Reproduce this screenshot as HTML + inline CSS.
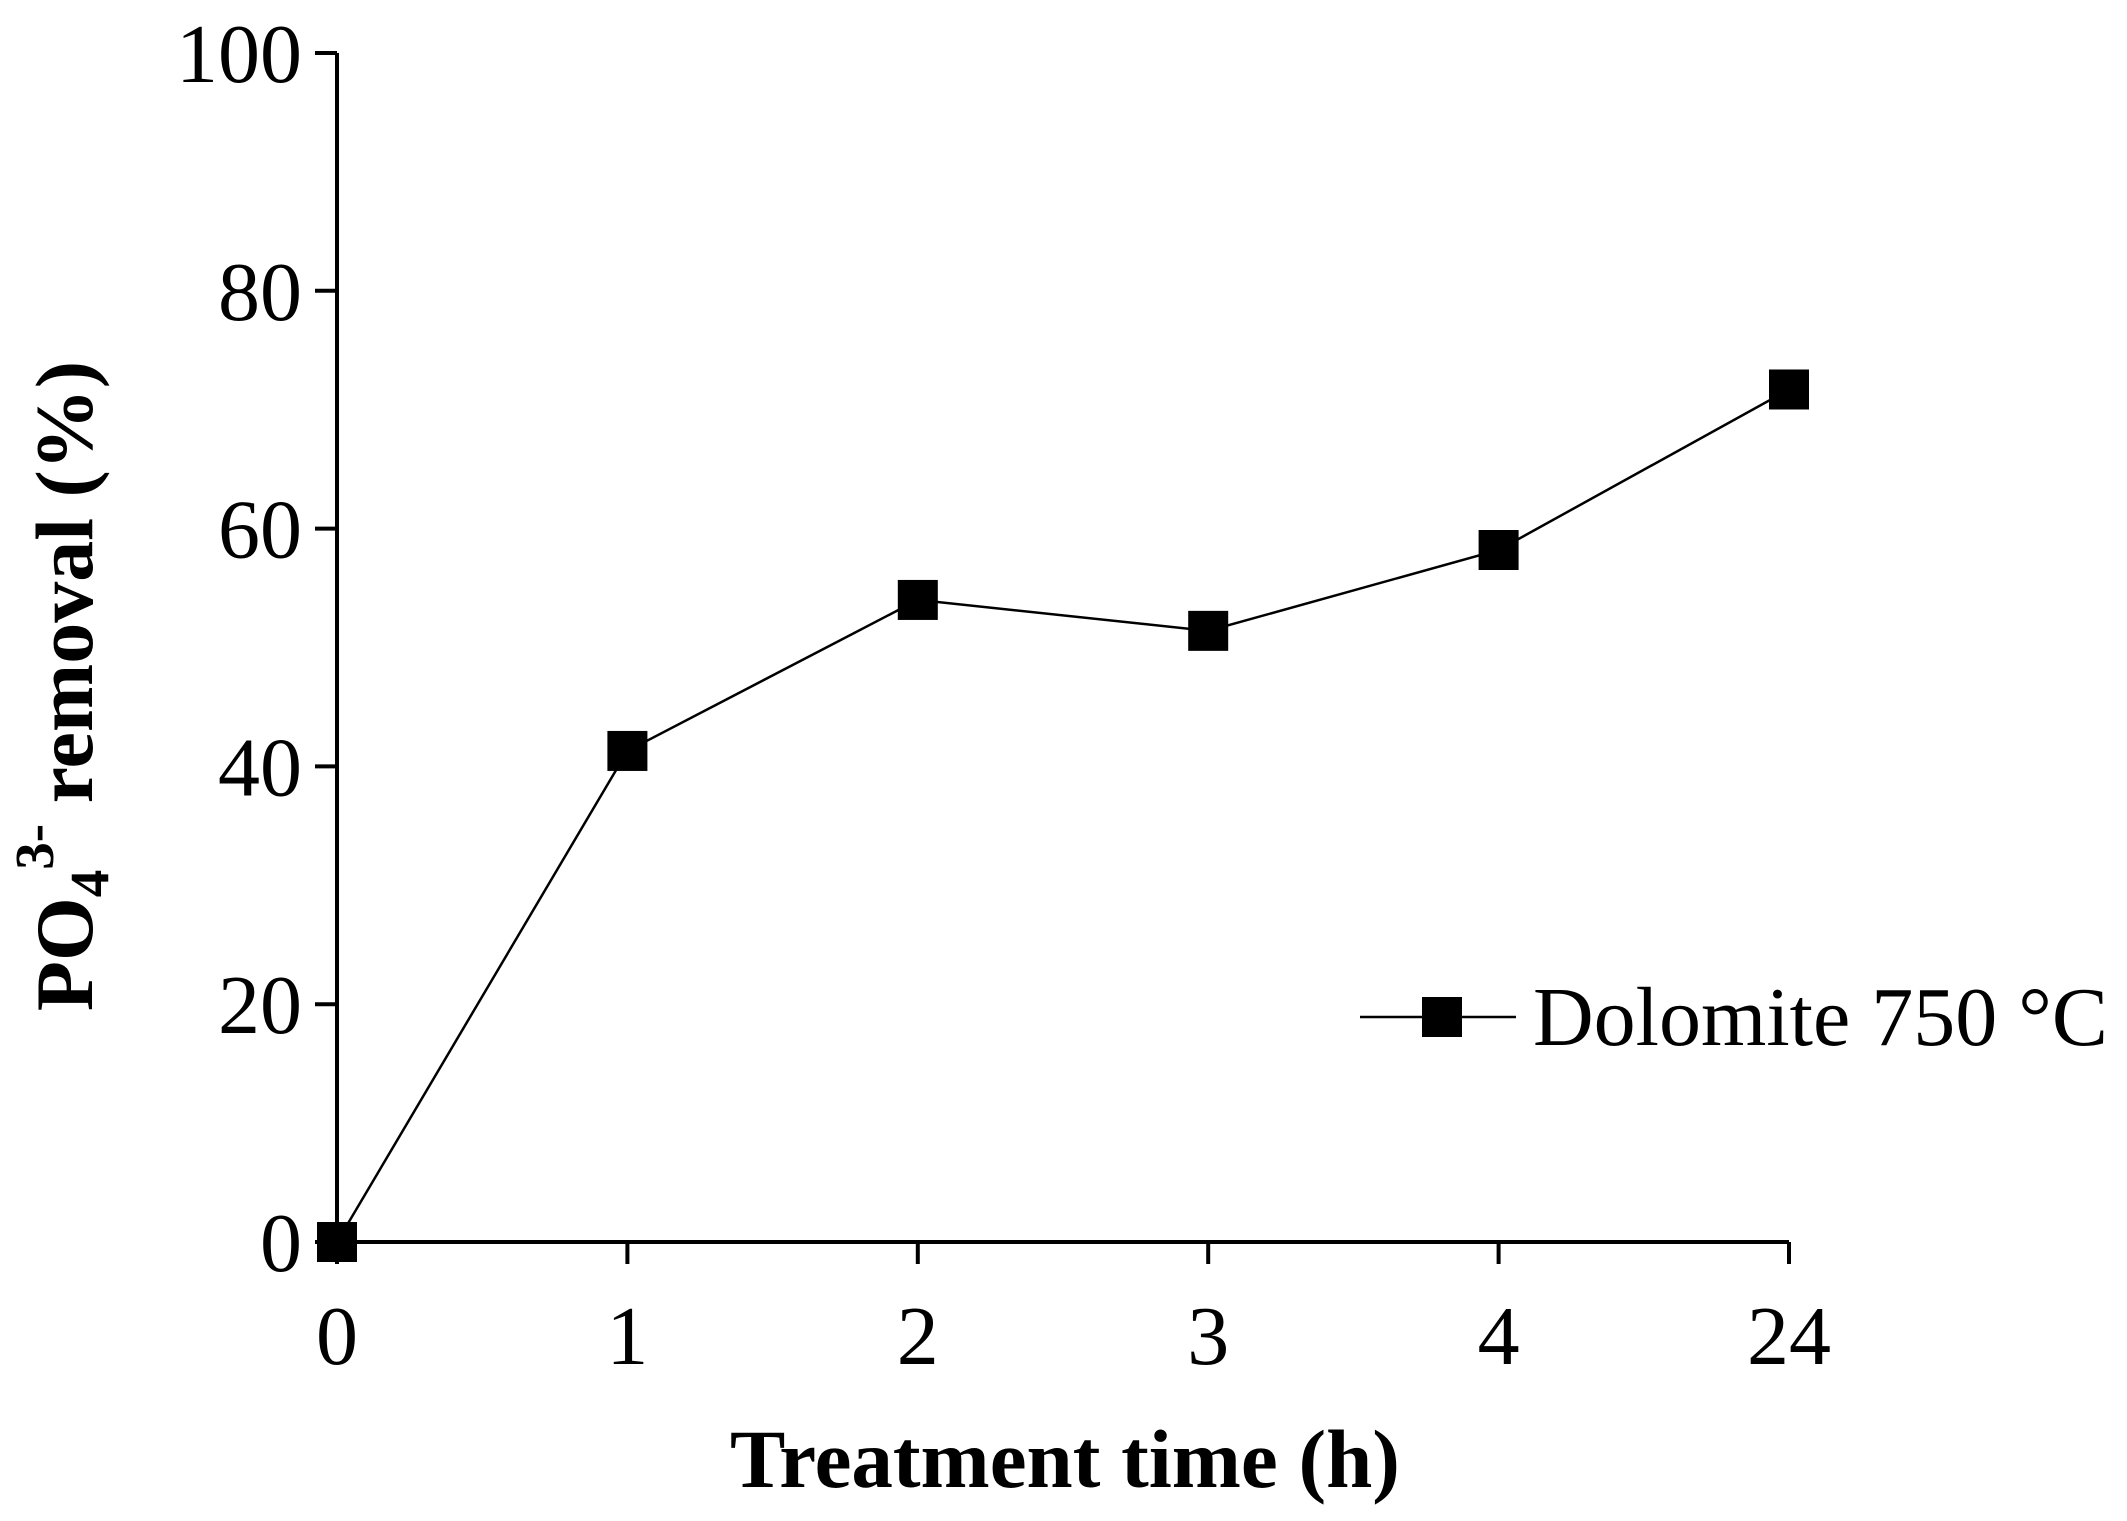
<!DOCTYPE html>
<html><head><meta charset="utf-8"><style>body{margin:0;background:#fff}svg{display:block}</style></head>
<body>
<svg id="chart" width="2127" height="1521" viewBox="0 0 2127 1521" font-family="'Liberation Serif', serif">
<g id="axes"></g><g id="series"></g>
<g>
<line x1="1360" y1="1017" x2="1516" y2="1017" stroke="#000" stroke-width="2.5"/>
<rect x="1422" y="997" width="40" height="40" fill="#000"/>
<text x="1533" y="1045" font-size="84">Dolomite 750 °C</text>
</g>
<text x="1065" y="1487" font-size="83" font-weight="bold" text-anchor="middle">Treatment time (h)</text>
<text transform="translate(92,686) rotate(-90)" font-size="82" font-weight="bold" text-anchor="middle">PO<tspan font-size="55" dy="16">4</tspan><tspan font-size="55" dy="-55">3-</tspan><tspan dy="39"> removal (%)</tspan></text>
</svg>
<script>
const categories=["0","1","2","3","4","24"];
const values=[0,41.3,54.0,51.4,58.2,71.7];
const yTicks=[0,20,40,60,80,100];
const NS="http://www.w3.org/2000/svg";
const x0=337,dx=290.4,yb=1242,yt=53;
const xs=i=>x0+i*dx, ys=v=>yb-(v/100)*(yb-yt);
function mk(t,a,p){const e=document.createElementNS(NS,t);for(const k in a)e.setAttribute(k,a[k]);p.appendChild(e);return e;}
const ax=document.getElementById('axes'),se=document.getElementById('series');
const ya=mk('line',{x1:x0,y1:yt,x2:x0,y2:yb,stroke:'#000','stroke-width':4},ax);


const xa=mk('line',{x1:x0,y1:yb,x2:xs(categories.length-1),y2:yb,stroke:'#000','stroke-width':4},ax);


yTicks.forEach(v=>{const y=ys(v);
const t=mk('line',{x1:x0-22,y1:y,x2:x0,y2:y,stroke:'#000','stroke-width':4},ax);


const l=mk('text',{x:302,y:y+29,'font-size':84,'text-anchor':'end'},ax);l.textContent=v;

});
categories.forEach((c,i)=>{const x=xs(i);
const t=mk('line',{x1:x,y1:yb,x2:x,y2:yb+22,stroke:'#000','stroke-width':4},ax);


const l=mk('text',{x:x,y:1364,'font-size':84,'text-anchor':'middle'},ax);l.textContent=c;

});
const pl=mk('polyline',{points:values.map((v,i)=>xs(i)+','+ys(v)).join(' '),fill:'none',stroke:'#000','stroke-width':2.5},se);


values.forEach((v,i)=>{const r=mk('rect',{x:xs(i)-20,y:ys(v)-20,width:40,height:40,fill:'#000'},se);

});
</script>
</body></html>
